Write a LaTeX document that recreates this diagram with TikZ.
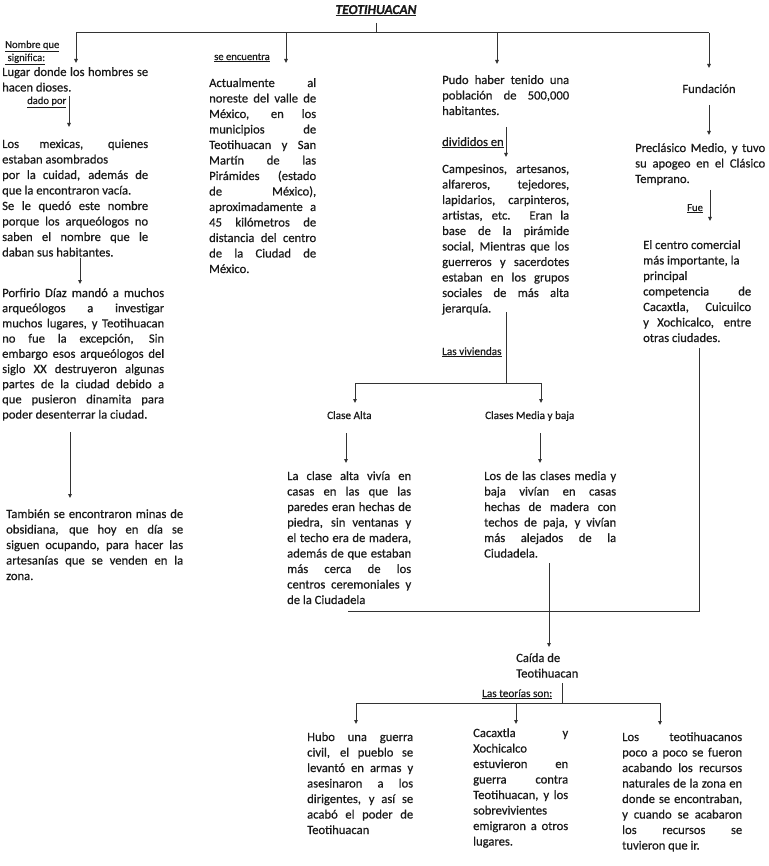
\documentclass[tikz,border=0pt]{standalone}
\usepackage{fontspec}
\setmainfont{Carlito}[FakeBold=0.5]
\usetikzlibrary{arrows.meta}
\definecolor{txt}{HTML}{1A1A1A}
\definecolor{lncol}{HTML}{333333}
\newcommand\tf{\fontsize{12.6}{15.5}\selectfont}
\newcommand\lbf{\fontsize{11.2}{13}\selectfont}
\newcommand\smf{\fontsize{10.6}{12.5}\selectfont}
\newcommand\J[1]{\hbox to\hsize{#1}}
\newcommand\E[1]{\hbox{#1}}
\newcommand\blk[2]{\vtop{\hsize=#1pt\relax\tf #2}}
\newcommand\blkt[2]{\vtop{\hsize=#1pt\relax\fontsize{12.6}{15.2}\selectfont #2}}
\tikzset{
  bk/.style={anchor=base west, inner sep=0pt, text=txt},
  ln/.style={draw=lncol, line width=1pt},
  arr/.style={ln, -{Triangle[length=4pt,width=3.5pt]}}
}
\begin{document}
\begin{tikzpicture}[x=1pt,y=-1pt]
\useasboundingbox (0,0) rectangle (768,866);
\fill[white] (0,0) rectangle (768,866);

% title
\node[anchor=base, inner sep=0pt, text=txt] (title) at (376,14) {\fontsize{13.5}{15}\selectfont\bfseries\itshape\underline{TEOTIHUACAN}};

% left column
\node[bk] (nom) at (5,48) {\smf\underline{Nombre que}};
\node[bk] (sig) at (5,61) {\smf\underline{\ significa:}};
\node[bk] (lugar) at (2,76) {\blk{146}{\J{Lugar donde los hombres se}\E{hacen dioses.}}};
\node[bk] (dado) at (27,104) {\smf\underline{dado por}};
\node[bk] (mex) at (2,148) {\blk{146}{%
\J{Los mexicas, quienes}
\E{estaban asombrados}
\J{por la cuidad, además de}
\E{que la encontraron vacía.}
\J{Se le quedó este nombre}
\J{porque los arqueólogos no}
\J{saben el nombre que le}
\E{daban sus habitantes.}}};
\node[bk] (porf) at (2,297) {\blkt{162}{%
\J{Porfirio Díaz mandó a muchos}
\J{arqueólogos a investigar}
\J{muchos lugares, y Teotihuacan}
\J{no fue la excepción, Sin}
\J{embargo esos arqueólogos del}
\J{siglo XX destruyeron algunas}
\J{partes de la ciudad debido a}
\J{que pusieron dinamita para}
\E{poder desenterrar la ciudad.}}};
\node[bk] (tamb) at (6,518) {\blk{177}{%
\J{También se encontraron minas de}
\J{obsidiana, que hoy en día se}
\J{siguen ocupando, para hacer las}
\J{artesanías que se venden en la}
\E{zona.}}};

% second column
\node[bk] (enc) at (214,60) {\smf\underline{se encuentra}};
\node[bk] (actual) at (209,87) {\blk{107}{%
\J{Actualmente al}
\J{noreste del valle de}
\J{México, en los}
\J{municipios de}
\J{Teotihuacan y San}
\J{Martín de las}
\J{Pirámides (estado}
\J{de México),}
\J{aproximadamente a}
\J{45 kilómetros de}
\J{distancia del centro}
\J{de la Ciudad de}
\E{México.}}};

% third column
\node[bk] (pudo) at (442,84) {\blk{127}{%
\J{Pudo haber tenido una}
\J{población de 500,000}
\E{habitantes.}}};
\node[bk] (div) at (442,146) {\tf\underline{divididos en}};
\node[bk] (camp) at (442,173) {\blk{127}{%
\J{Campesinos, artesanos,}
\J{alfareros, tejedores,}
\J{lapidarios, carpinteros,}
\J{artistas, etc. Eran la}
\J{base de la pirámide}
\J{social, Mientras que los}
\J{guerreros y sacerdotes}
\J{estaban en los grupos}
\J{sociales de más alta}
\E{jerarquía.}}};
\node[bk] (viv) at (442,355) {\lbf\underline{Las viviendas}};
\node[bk] (alta) at (327,419) {\lbf Clase Alta};
\node[bk] (media) at (485,419) {\lbf Clases Media y baja};
\node[bk] (altat) at (287,480) {\blk{124}{%
\J{La clase alta vivía en}
\J{casas en las que las}
\J{paredes eran hechas de}
\J{piedra, sin ventanas y}
\J{el techo era de madera,}
\J{además de que estaban}
\J{más cerca de los}
\J{centros ceremoniales y}
\E{de la Ciudadela}}};
\node[bk] (mediat) at (484,480) {\blk{132}{%
\J{Los de las clases media y}
\J{baja vivían en casas}
\J{hechas de madera con}
\J{techos de paja, y vivían}
\J{más alejados de la}
\E{Ciudadela.}}};

% right column
\node[anchor=base, inner sep=0pt, text=txt] (fund) at (709,93) {\tf Fundación};
\node[bk] (precl) at (635,152) {\blk{130}{%
\J{Preclásico Medio, y tuvo}
\J{su apogeo en el Clásico}
\E{Temprano.}}};
\node[bk] (fue) at (687,211) {\smf\underline{Fue}};
\node[bk] (centro) at (643,249) {\blk{108}{%
\E{El centro comercial}
\E{más importante, la}
\E{principal}
\J{competencia de}
\J{Cacaxtla, Cuicuilco}
\J{y Xochicalco, entre}
\E{otras ciudades.}}};

% bottom
\node[bk] (caida) at (516,662) {\blk{80}{\E{Caída de}\E{Teotihuacan}}};
\node[bk] (teor) at (482,697) {\lbf\underline{Las teorías son:}};
\node[bk] (hubo) at (307,741) {\blk{106}{%
\J{Hubo una guerra}
\J{civil, el pueblo se}
\J{levantó en armas y}
\J{asesinaron a los}
\J{dirigentes, y así se}
\J{acabó el poder de}
\E{Teotihuacan}}};
\node[bk] (cacax) at (473,737) {\blk{95}{%
\J{Cacaxtla y}
\E{Xochicalco}
\J{estuvieron en}
\J{guerra contra}
\J{Teotihuacan, y los}
\E{sobrevivientes}
\J{emigraron a otros}
\E{lugares.}}};
\node[bk] (recur) at (622,741) {\blk{120}{%
\J{Los teotihuacanos}
\J{poco a poco se fueron}
\J{acabando los recursos}
\J{naturales de la zona en}
\J{donde se encontraban,}
\J{y cuando se acabaron}
\J{los recursos se}
\E{tuvieron que ir.}}};

% coordinates
\coordinate (t0) at (376,23); \coordinate (t1) at (376,33);
\coordinate (bl) at (76,33); \coordinate (br) at (709,33);
\coordinate (b2) at (286,33); \coordinate (b3) at (497,33);
\coordinate (a1) at (76,63); \coordinate (a2) at (286,63);
\coordinate (a3) at (497,64); \coordinate (a4) at (709,68);
\coordinate (d0) at (69,96); \coordinate (d1) at (69,127);
\coordinate (p0) at (80,258); \coordinate (p1) at (80,284);
\coordinate (m0) at (70,432); \coordinate (m1) at (70,498);
\coordinate (v0) at (506,127); \coordinate (v1) at (506,157);
\coordinate (j0) at (506,312); \coordinate (j1) at (506,383);
\coordinate (hl) at (355,383); \coordinate (hr) at (541,383);
\coordinate (ca) at (355,403); \coordinate (cm) at (541,403);
\coordinate (x0) at (346,433); \coordinate (x1) at (346,463);
\coordinate (y0) at (540,433); \coordinate (y1) at (540,463);
\coordinate (f0) at (709,105); \coordinate (f1) at (709,135);
\coordinate (g0) at (710,190); \coordinate (g1) at (710,221);
\coordinate (r0) at (699,348); \coordinate (r1) at (699,611);
\coordinate (r2) at (348,611);
\coordinate (k0) at (549,563); \coordinate (k1) at (549,647);
\coordinate (s0) at (562,683); \coordinate (s1) at (562,703);
\coordinate (ql) at (356,703); \coordinate (qm) at (516,703); \coordinate (qr) at (660,703);
\coordinate (e1) at (356,724); \coordinate (e2) at (516,724); \coordinate (e3) at (660,725);

% connectors
\draw[ln] (t0) -- (t1);
\draw[ln] (bl) -- (br);
\draw[arr] (bl) -- (a1);
\draw[arr] (b2) -- (a2);
\draw[arr] (b3) -- (a3);
\draw[arr] (br) -- (a4);
\draw[arr] (d0) -- (d1);
\draw[arr] (p0) -- (p1);
\draw[arr] (m0) -- (m1);
\draw[arr] (v0) -- (v1);
\draw[ln] (j0) -- (j1);
\draw[ln] (hl) -- (hr);
\draw[arr] (hl) -- (ca);
\draw[arr] (hr) -- (cm);
\draw[arr] (x0) -- (x1);
\draw[arr] (y0) -- (y1);
\draw[arr] (f0) -- (f1);
\draw[arr] (g0) -- (g1);
\draw[ln] (r0) -- (r1) -- (r2);
\draw[arr] (k0) -- (k1);
\draw[ln] (s0) -- (s1);
\draw[ln] (ql) -- (qr);
\draw[arr] (ql) -- (e1);
\draw[arr] (qm) -- (e2);
\draw[arr] (qr) -- (e3);
\end{tikzpicture}
\end{document}
